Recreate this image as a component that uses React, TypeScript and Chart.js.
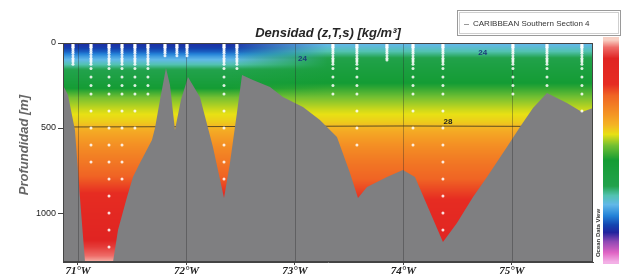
import React, { useEffect, useRef } from 'react';
import { Chart, registerables } from 'chart.js';

Chart.register(...registerables);

// ---------- data ----------
const xTickValues = [71, 72, 73, 74, 75];
const yTickValues = [0, 500, 1000];
const lonMin = 70.862;
const lonMax = 75.747;
const depthMax = 1288;

// seafloor (bathymetry) along the section
const bottomLon = [70.862, 70.908, 70.972, 71.018, 71.065, 71.323, 71.369, 71.452, 71.507, 71.571, 71.682, 71.71, 71.756, 71.811, 71.848, 71.894, 71.949, 72.014, 72.124, 72.244, 72.346, 72.401, 72.465, 72.512, 72.613, 72.77, 72.889, 73.074, 73.23, 73.387, 73.507, 73.581, 73.664, 73.848, 73.995, 74.106, 74.364, 74.493, 74.641, 74.77, 74.954, 75.074, 75.194, 75.323, 75.507, 75.645, 75.747];
const bottomDepth = [247, 306, 512, 906, 1288, 1288, 1100, 906, 788, 706, 571, 500, 335, 147, 247, 512, 335, 200, 318, 612, 912, 706, 412, 188, 218, 259, 318, 376, 453, 553, 765, 912, 847, 788, 747, 788, 1171, 1059, 906, 788, 612, 494, 382, 294, 353, 406, 382];

// stations and their deepest sample
const stationLon = [70.954, 71.12, 71.286, 71.406, 71.525, 71.645, 71.802, 71.912, 72.005, 72.346, 72.465, 73.35, 73.571, 73.848, 74.088, 74.364, 75.009, 75.323, 75.645];
const stationMaxDepth = [125, 700, 1200, 800, 500, 300, 75, 75, 75, 800, 150, 300, 600, 100, 600, 1100, 300, 250, 400];
const sampleDepths = [0, 5, 10, 15, 20, 25, 30, 40, 50, 60, 75, 90, 100, 110, 125, 150, 200, 250, 300, 400, 500, 600, 700, 800, 900, 1000, 1100, 1200];

// gridded density field (kg/m3) : two profiles anchored at longitudes
const fieldDepths = [0, 25, 50, 80, 110, 150, 200, 260, 320, 400, 460, 520, 600, 700, 800, 900, 1000, 1100, 1200, 1290];
const densityWest = [1022.7, 1022.9, 1023.2, 1023.8, 1024.3, 1025.0, 1025.6, 1026.4, 1027.3, 1027.8, 1028.1, 1028.6, 1029.1, 1029.6, 1030.1, 1030.7, 1031.2, 1031.7, 1032.2, 1032.9];
const densityEast = [1024.0, 1024.3, 1024.6, 1025.0, 1025.4, 1025.8, 1026.2, 1026.7, 1027.3, 1027.8, 1028.1, 1028.6, 1029.1, 1029.6, 1030.0, 1030.5, 1031.0, 1031.5, 1032.0, 1032.5];
const profileLon = [70.862, 72.4, 73.3, 75.747];

// contour line 28 and contour labels
const contourLon = [70.862, 72.0, 73.0, 74.0, 75.0, 75.747];
const contourDepth = [494, 492, 490, 488, 490, 492];
const contourLabelLon = [73.07, 74.73, 74.41];
const contourLabelDepth = [94, 59, 465];
const contourLabelText = ['24', '24', '28'];

// colour map
const cmapValues = [1021.0, 1021.5, 1022.1, 1022.6, 1023.0, 1023.5, 1024.1, 1024.6, 1025.1, 1026.5, 1027.3, 1027.9, 1028.4, 1029.0, 1030.0, 1030.6, 1032.0, 1032.6, 1033.0];
const cmapColors = ['#f3b0e6', '#e064c4', '#9048b4', '#22249e', '#1444b0', '#2482d8', '#62b8e8', '#52c2b0', '#22a24c', '#149c34', '#74c032', '#e8e014', '#f4b424', '#f49424', '#f06424', '#e62c22', '#e02422', '#ee6c68', '#f8d0c4'];

const titleText = 'Densidad (z,T,s) [kg/m³]';
const yTitleText = 'Profundidad [m]';
const legendText = 'CARIBBEAN Southern Section 4';
const watermarkText = 'Ocean Data View';

// ---------- helpers ----------
function interp(xs: number[], ys: number[], x: number) {
  if (x <= xs[0]) return ys[0];
  if (x >= xs[xs.length - 1]) return ys[ys.length - 1];
  for (let i = 1; i < xs.length; i++) {
    if (x <= xs[i]) {
      const t = (x - xs[i - 1]) / (xs[i] - xs[i - 1]);
      return ys[i - 1] + (ys[i] - ys[i - 1]) * t;
    }
  }
  return ys[ys.length - 1];
}
function hex(c: string) {
  return [parseInt(c.slice(1, 3), 16), parseInt(c.slice(3, 5), 16), parseInt(c.slice(5, 7), 16)];
}
const cmapRgb = cmapColors.map(hex);
function colorFor(v: number) {
  const r = interp(cmapValues, cmapRgb.map((c) => c[0]), v);
  const g = interp(cmapValues, cmapRgb.map((c) => c[1]), v);
  const b = interp(cmapValues, cmapRgb.map((c) => c[2]), v);
  return `rgb(${Math.round(r)},${Math.round(g)},${Math.round(b)})`;
}
const profiles = [densityWest, densityWest, densityEast, densityEast];

const fieldPlugin = {
  id: 'field',
  beforeDatasetsDraw(chart: any) {
    const { ctx, chartArea: ca, scales } = chart;
    const xs = scales.x, ys = scales.y;
    ctx.save();
    ctx.beginPath();
    ctx.rect(ca.left, ca.top, ca.right - ca.left, ca.bottom - ca.top);
    ctx.clip();
    const x0 = xs.getPixelForValue(profileLon[0]);
    const x1 = xs.getPixelForValue(profileLon[profileLon.length - 1]);
    for (let py = Math.floor(ca.top); py < ca.bottom; py++) {
      const d = ys.getValueForPixel(py + 0.5);
      const g = ctx.createLinearGradient(x0, 0, x1, 0);
      profileLon.forEach((lon, i) => {
        const v = interp(fieldDepths, profiles[i], d);
        g.addColorStop(Math.min(1, Math.max(0, (xs.getPixelForValue(lon) - x0) / (x1 - x0))), colorFor(v));
      });
      ctx.fillStyle = g;
      ctx.fillRect(ca.left, py, ca.right - ca.left, 1);
    }
    ctx.restore();
  },
  afterDatasetDraw(chart: any, args: any) {
    if (args.index !== 1) return;
    const { ctx, chartArea: ca, scales } = chart;
    ctx.save();
    ctx.strokeStyle = 'rgba(40,40,40,0.35)';
    ctx.lineWidth = 1;
    xTickValues.forEach((v) => {
      const px = Math.round(scales.x.getPixelForValue(v)) + 0.5;
      ctx.beginPath();
      ctx.moveTo(px, ca.top);
      ctx.lineTo(px, ca.bottom);
      ctx.stroke();
    });
    ctx.restore();
  },
  afterDraw(chart: any) {
    const { ctx, chartArea: ca, scales } = chart;
    ctx.save();
    // frame
    ctx.strokeStyle = '#444';
    ctx.lineWidth = 1;
    ctx.strokeRect(Math.round(ca.left) + 0.5, Math.round(ca.top) + 0.5, Math.round(ca.right - ca.left) - 1, Math.round(ca.bottom - ca.top) - 1);
    // contour labels
    ctx.textAlign = 'center';
    ctx.textBaseline = 'middle';
    contourLabelText.forEach((t, i) => {
      ctx.font = 'bold 8px "Liberation Sans", Arial, sans-serif';
      ctx.fillStyle = t === '28' ? '#222' : '#1c3c7c';
      ctx.fillText(t, scales.x.getPixelForValue(contourLabelLon[i]), scales.y.getPixelForValue(contourLabelDepth[i]));
    });
    // title
    ctx.font = 'italic bold 13px "Liberation Sans", Arial, sans-serif';
    ctx.fillStyle = '#262626';
    ctx.fillText(titleText, (ca.left + ca.right) / 2, 33);
    // y title
    ctx.save();
    ctx.translate(24, 145);
    ctx.rotate(-Math.PI / 2);
    ctx.font = 'italic bold 13px "Liberation Sans", Arial, sans-serif';
    ctx.fillStyle = '#666';
    ctx.fillText(yTitleText, 0, 0);
    ctx.restore();
    // legend box
    ctx.strokeStyle = '#9a9a9a';
    ctx.strokeRect(457.5, 10.5, 163, 25);
    ctx.strokeStyle = '#cfcfcf';
    ctx.strokeRect(459.5, 12.5, 159, 21);
    ctx.strokeStyle = '#999';
    ctx.beginPath();
    ctx.moveTo(464, 24.5);
    ctx.lineTo(469, 24.5);
    ctx.stroke();
    ctx.font = '8px "Liberation Sans", Arial, sans-serif';
    ctx.fillStyle = '#333';
    ctx.textAlign = 'left';
    ctx.fillText(legendText, 473, 24);
    // colour bar
    const cbTop = 40, cbBot = 262;
    const vTop = cmapValues[cmapValues.length - 1], vBot = cmapValues[0];
    for (let py = 37; py < 264; py++) {
      const t = Math.min(1, Math.max(0, (py + 0.5 - cbTop) / (cbBot - cbTop)));
      ctx.fillStyle = colorFor(vTop - t * (vTop - vBot));
      ctx.fillRect(603, py, 16, 1);
    }
    // watermark
    ctx.save();
    ctx.translate(598, 233);
    ctx.rotate(-Math.PI / 2);
    ctx.font = 'bold 6px "Liberation Sans", Arial, sans-serif';
    ctx.fillStyle = '#333';
    ctx.textAlign = 'center';
    ctx.fillText(watermarkText, 0, 0);
    ctx.restore();
    ctx.restore();
  },
};

export default function App() {
  const ref = useRef<HTMLCanvasElement | null>(null);
  useEffect(() => {
    if (!ref.current) return;
    const points: { x: number; y: number }[] = [];
    stationLon.forEach((lon, i) => {
      sampleDepths.forEach((d) => {
        if (d <= stationMaxDepth[i]) points.push({ x: lon, y: d });
      });
    });
    const chart = new Chart(ref.current, {
      type: 'scatter',
      data: {
        datasets: [
          {
            label: 'contour 28',
            data: contourLon.map((x, i) => ({ x, y: contourDepth[i] })),
            showLine: true,
            borderColor: 'rgba(30,30,30,0.7)',
            borderWidth: 1,
            pointRadius: 0,
            order: 2,
          },
          {
            label: 'bathymetry',
            data: bottomLon.map((x, i) => ({ x, y: bottomDepth[i] })),
            showLine: true,
            borderWidth: 0,
            borderColor: 'rgba(0,0,0,0)',
            backgroundColor: '#7f7f81',
            fill: { value: depthMax },
            pointRadius: 0,
            order: 1,
          } as any,
          {
            label: 'samples',
            data: points,
            pointRadius: 1.5,
            pointBorderWidth: 0,
            pointBackgroundColor: 'rgba(255,255,255,0.85)',
            order: 0,
          },
        ],
      },
      options: {
        responsive: false,
        animation: false,
        events: [],
        layout: { padding: { top: 43, right: 30, left: 0, bottom: 0 } },
        plugins: { legend: { display: false }, tooltip: { enabled: false }, title: { display: false } },
        scales: {
          x: {
            type: 'linear',
            min: lonMin,
            max: lonMax,
            afterBuildTicks: (s: any) => {
              s.ticks = xTickValues.map((v) => ({ value: v }));
            },
            afterFit: (s: any) => {
              s.height = 14;
            },
            ticks: {
              autoSkip: false,
              maxRotation: 0,
              padding: 0,
              color: '#222',
              font: { family: '"Liberation Serif", serif', size: 11, style: 'italic', weight: 'bold' },
              callback: (v: any) => `${v}°W`,
            },
            grid: { drawOnChartArea: false, tickLength: 3, color: '#444' },
            border: { color: '#444' },
          },
          y: {
            type: 'linear',
            reverse: true,
            min: 0,
            max: depthMax,
            afterBuildTicks: (s: any) => {
              s.ticks = yTickValues.map((v) => ({ value: v }));
            },
            afterFit: (s: any) => {
              s.width = 63;
            },
            ticks: {
              autoSkip: false,
              padding: 2,
              color: '#222',
              font: { family: '"Liberation Sans", Arial, sans-serif', size: 9 },
              callback: (v: any) => `${v}`,
            },
            grid: { drawOnChartArea: false, tickLength: 5, color: '#444' },
            border: { color: '#444' },
          },
        },
      } as any,
      plugins: [fieldPlugin],
    });
    return () => chart.destroy();
  }, []);
  return (
    <div style={{ position: 'fixed', left: 0, top: 0, width: 623, height: 276, background: '#fff' }}>
      <canvas ref={ref} width={623} height={276} style={{ width: 623, height: 276, display: 'block' }} />
    </div>
  );
}
